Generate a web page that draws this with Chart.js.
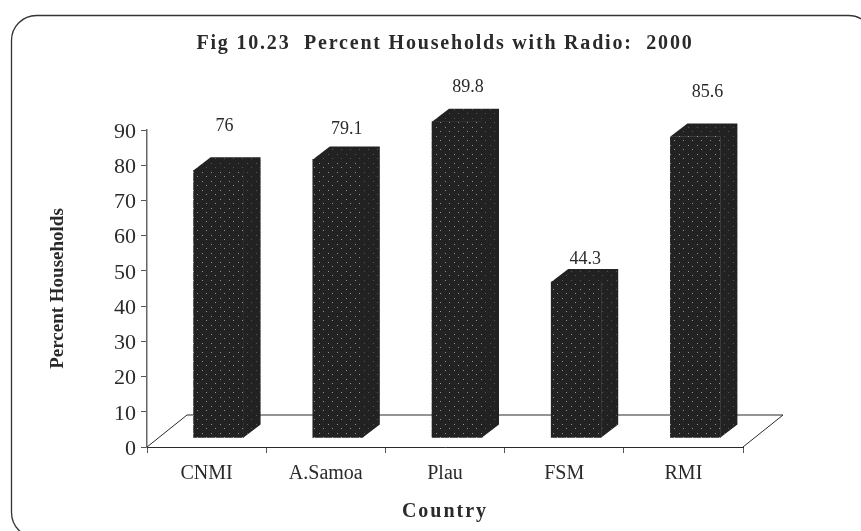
<!DOCTYPE html>
<html>
<head>
<meta charset="utf-8">
<style>
  html, body { margin: 0; padding: 0; background: #fff; }
  #wrap { width: 861px; height: 531px; overflow: hidden; }
  canvas { display: block; }
</style>
<script src="https://cdn.jsdelivr.net/npm/chart.js@4"></script>
</head>
<body>
<div id="wrap"><canvas id="chart" width="861" height="531"></canvas></div>
<script>
const categories = ["CNMI", "A.Samoa", "Plau", "FSM", "RMI"];
const percentHouseholds = [76, 79.1, 89.8, 44.3, 85.6];
const yTicks = [0, 10, 20, 30, 40, 50, 60, 70, 80, 90];
const chartTitle = "Fig 10.23  Percent Households with Radio:  2000";
const xTitle = "Country";
const yTitle = "Percent Households";

const serif = "'Liberation Serif', serif";
const ink = "#2a2a2a";

// dotted fill for the bar faces
function dotPattern(dot) {
  const c = document.createElement("canvas");
  c.width = 9;
  c.height = 9;
  const p = c.getContext("2d");
  p.fillStyle = "#222222";
  p.fillRect(0, 0, 9, 9);
  p.fillStyle = dot;
  p.fillRect(1, 1, 1, 1);
  p.fillRect(5, 5, 1, 1);
  return p.createPattern(c, "repeat");
}
const frontFill = dotPattern("#909090");
const depthFill = dotPattern("#555555");

// rounded frame, runs off the right and bottom of the page
const framePlugin = {
  id: "frame",
  beforeDraw(chart) {
    const ctx = chart.ctx;
    ctx.save();
    ctx.strokeStyle = "#333";
    ctx.lineWidth = 1.3;
    ctx.beginPath();
    ctx.roundRect(11.5, 15.5, 862, 522, 25);
    ctx.stroke();
    ctx.restore();
  }
};

// the floor of the 3D box, then the depth faces of each bar
const floorDepth = { x: 40, y: -32 };
const barShift = { x: 12, y: -9 };
const barDepth = { x: 17, y: -13 };

const floorPlugin = {
  id: "floor",
  beforeDatasetsDraw(chart) {
    const ctx = chart.ctx;
    const base = chart.scales.y.getPixelForValue(0);
    const l = chart.scales.x.left;
    const r = chart.scales.x.right;
    ctx.save();
    ctx.strokeStyle = ink;
    ctx.lineWidth = 1;
    ctx.beginPath();
    ctx.moveTo(l, base);
    ctx.lineTo(l + floorDepth.x, base + floorDepth.y);
    ctx.lineTo(r + floorDepth.x, base + floorDepth.y);
    ctx.lineTo(r, base);
    ctx.stroke();
    ctx.restore();
  },
  beforeDatasetDraw(chart, args) {
    const ctx = chart.ctx;
    ctx.save();
    ctx.translate(barShift.x, barShift.y);
    args.meta.data.forEach((bar) => {
      const l = bar.x - bar.width / 2;
      const r = bar.x + bar.width / 2;
      ctx.fillStyle = depthFill;
      ctx.beginPath();
      ctx.moveTo(l, bar.y);
      ctx.lineTo(l + barDepth.x, bar.y + barDepth.y);
      ctx.lineTo(r + barDepth.x, bar.y + barDepth.y);
      ctx.lineTo(r + barDepth.x, bar.base + barDepth.y);
      ctx.lineTo(r, bar.base);
      ctx.lineTo(r, bar.y);
      ctx.closePath();
      ctx.fill();
    });
  },
  afterDatasetDraw(chart) {
    chart.ctx.restore();
  }
};

// value labels float at different heights in the original
const labelLift = [53, 39, 43, 32, 53];
const labelNudge = [18, 21, 23, 21, 24];

// chart.js has no letter spacing, so the two spaced titles are drawn here
const textPlugin = {
  id: "texts",
  afterDatasetsDraw(chart) {
    const ctx = chart.ctx;
    const mid = (chart.scales.x.left + chart.scales.x.right) / 2;
    ctx.save();
    ctx.fillStyle = ink;
    ctx.textAlign = "center";
    ctx.textBaseline = "middle";
    ctx.font = "18px " + serif;
    chart.getDatasetMeta(0).data.forEach((bar, i) => {
      ctx.fillText(String(percentHouseholds[i]), bar.x + labelNudge[i], bar.y - labelLift[i]);
    });
    ctx.font = "bold 20px " + serif;
    ctx.letterSpacing = "1.8px";
    ctx.fillText(chartTitle, mid, 44);
    ctx.letterSpacing = "2px";
    ctx.fillText(xTitle, mid, 512);
    ctx.restore();
  }
};

new Chart(document.getElementById("chart"), {
  type: "bar",
  data: {
    labels: categories,
    datasets: [{
      data: percentHouseholds,
      backgroundColor: frontFill,
      borderWidth: 0,
      barThickness: 50,
      clip: false
    }]
  },
  plugins: [framePlugin, floorPlugin, textPlugin],
  options: {
    responsive: false,
    animation: false,
    layout: { padding: { top: 130, right: 118, bottom: 0, left: 47 } },
    plugins: {
      legend: { display: false },
      tooltip: { enabled: false }
    },
    scales: {
      x: {
        offset: true,
        afterFit(scale) {
          scale.height = 84;
        },
        grid: { offset: true, drawOnChartArea: false, color: "#555", tickLength: 6 },
        border: { color: ink, width: 1 },
        ticks: { color: ink, padding: 9, font: { family: serif, size: 20 }, maxRotation: 0 }
      },
      y: {
        min: 0,
        max: 90,
        afterBuildTicks(scale) {
          scale.ticks = yTicks.map((v) => ({ value: v }));
        },
        afterFit(scale) {
          scale.width = 100;
        },
        grid: { drawOnChartArea: false, color: "#555", tickLength: 6 },
        border: { color: "#666", width: 1.5 },
        ticks: { color: ink, padding: 5, labelOffset: 2, font: { family: serif, size: 22 } },
        title: {
          display: true,
          text: yTitle,
          color: ink,
          font: { family: serif, size: 19, weight: "bold" },
          padding: 0
        }
      }
    }
  }
});
</script>
</body>
</html>
